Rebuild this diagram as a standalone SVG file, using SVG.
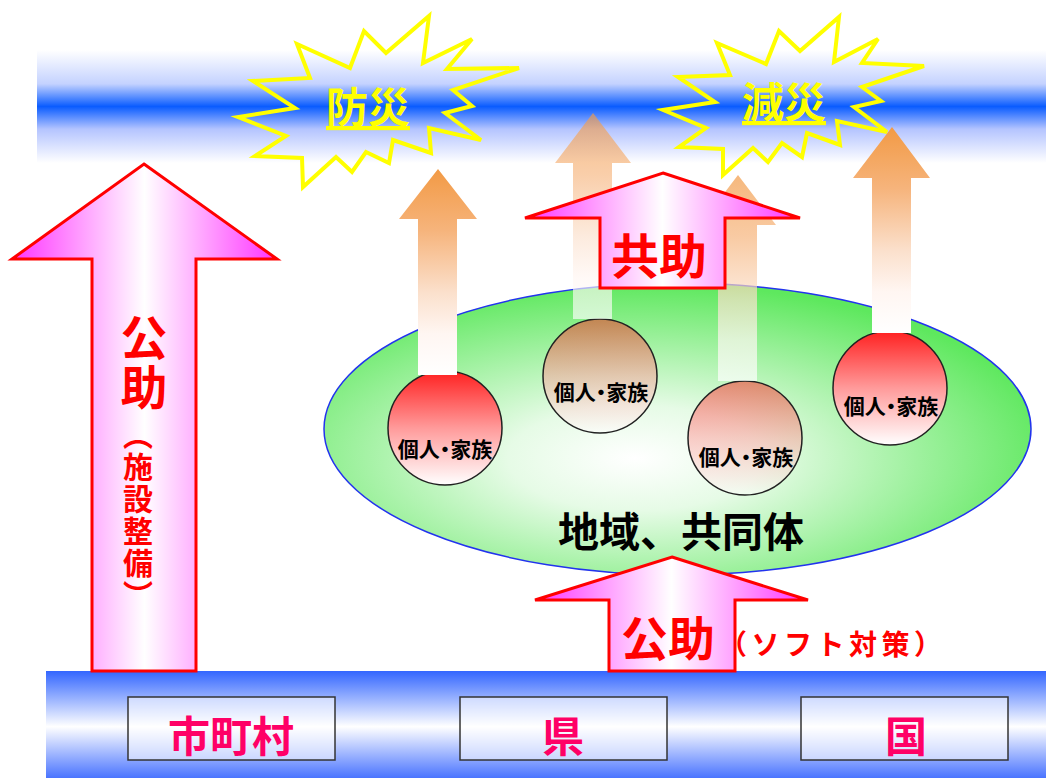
<svg xmlns="http://www.w3.org/2000/svg" width="1046" height="778" viewBox="0 0 1046 778">
<style>
.cjk{font-family:"Noto Sans CJK JP","Noto Sans CJK SC",sans-serif;font-weight:700}
.star{fill:none;stroke:#ffff00;stroke-width:4;stroke-linejoin:miter}
.bigarrow{fill:url(#gMag);stroke:#ff0000;stroke-width:3;stroke-linejoin:miter}
.circ{stroke:#222;stroke-width:1.5}
.ctext{font-size:21px;fill:#000;text-anchor:middle;font-feature-settings:"palt"}
.box{fill:#ffffff;fill-opacity:0.55;stroke:#333;stroke-width:1.5}
.btext{font-size:42px;fill:#ff0066;text-anchor:middle}
</style>
<defs>
<linearGradient id="gTop" x1="0" y1="0" x2="0" y2="1">
<stop offset="0" stop-color="#ffffff"/>
<stop offset="0.3" stop-color="#c4d2ff"/>
<stop offset="0.5" stop-color="#0a5cff"/>
<stop offset="0.7" stop-color="#b4c4ff"/>
<stop offset="1" stop-color="#ffffff"/>
</linearGradient>
<linearGradient id="gBot" x1="0" y1="0" x2="0" y2="1">
<stop offset="0" stop-color="#3366ff"/>
<stop offset="0.52" stop-color="#ffffff"/>
<stop offset="1" stop-color="#4a74ff"/>
</linearGradient>
<radialGradient id="gEll" cx="0.44" cy="0.6" r="0.6">
<stop offset="0" stop-color="#ffffff"/>
<stop offset="0.3" stop-color="#e6fbe6"/>
<stop offset="1" stop-color="#5ee85e"/>
</radialGradient>
<linearGradient id="gMag" x1="0" y1="0" x2="1" y2="0">
<stop offset="0" stop-color="#ff33ff"/>
<stop offset="0.5" stop-color="#ffffff"/>
<stop offset="1" stop-color="#ff33ff"/>
</linearGradient>
<linearGradient id="gOr" x1="0" y1="0" x2="0" y2="1">
<stop offset="0" stop-color="#f29a45"/>
<stop offset="0.3" stop-color="#f6b47c"/>
<stop offset="0.6" stop-color="#fbe0cc"/>
<stop offset="0.8" stop-color="#fff6f2"/>
<stop offset="1" stop-color="#ffffff"/>
</linearGradient>
<linearGradient id="gRed" x1="0" y1="0" x2="0" y2="1">
<stop offset="0" stop-color="#ff2020"/>
<stop offset="0.5" stop-color="#ff9a9a"/>
<stop offset="1" stop-color="#ffffff"/>
</linearGradient>
</defs>

<!-- bands -->
<rect id="topband" x="37" y="50" width="1009" height="113" fill="url(#gTop)"/>
<rect id="bottomband" x="46" y="671" width="1000" height="107" fill="url(#gBot)"/>

<!-- stars -->
<g id="star-bosai">
<polygon class="star" points="297,44 350,68 364,31 386,53 429,16 423,63 472,39 447,69 519,68 453,90 472,106 445,113 481,140 429,128 431,153 393,140 389,163 366,152 352,172 336,157 303,187 302,158 255,156 286,136 238,117 295,108 253,81 310,78"/>
<text class="cjk" x="368" y="123" font-size="42" fill="#ffff00" text-anchor="middle" text-decoration="underline">防災</text>
</g>
<g id="star-gensai">
<polygon class="star" points="717,43 766,64 779,31 800,51 839,17 834,62 878,39 862,63 924,66 862,87 881,101 854,107 887,132 837,121 840,145 807,133 802,157 782,143 768,162 753,148 723,175 723,149 679,147 706,128 663,110 715,102 678,77 730,75"/>
<text class="cjk" x="784" y="118" font-size="42" fill="#ffff00" text-anchor="middle" text-decoration="underline">減災</text>
</g>

<!-- community ellipse -->
<g id="community">
<ellipse cx="677.5" cy="429" rx="353.5" ry="146" fill="url(#gEll)" stroke="#2233ee" stroke-width="1.5"/>
<text class="cjk" x="681" y="547" font-size="41" fill="#000" text-anchor="middle">地域、共同体</text>
</g>

<!-- individuals -->
<g id="person1"><circle class="circ" cx="445" cy="428" r="57" fill="url(#gRed)"/></g>
<g id="person2"><circle class="circ" cx="600" cy="376" r="57" fill="url(#gRed)" fill-opacity="0.5"/></g>
<g id="person3"><circle class="circ" cx="745" cy="438" r="57" fill="url(#gRed)" fill-opacity="0.5"/></g>
<g id="person4"><circle class="circ" cx="890" cy="388" r="57" fill="url(#gRed)"/></g>

<!-- connectors: orange effect arrows -->
<g id="connectors">
<polygon id="arrowA" fill="url(#gOr)" points="438,169 477,219 457,219 457,375 418,375 418,219 399,219"/>
<polygon id="arrowB" fill="url(#gOr)" opacity="0.65" points="593,113 631,163 612,163 612,319 573,319 573,163 555,163"/>
<polygon id="arrowC" fill="url(#gOr)" opacity="0.7" points="738,175 776,225 757,225 757,381 718,381 718,225 700,225"/>
<polygon id="arrowD" fill="url(#gOr)" points="892,127 930,178 911,178 911,333 872,333 872,178 853,178"/>
</g>

<!-- circle labels -->
<g id="labels">
<text class="cjk ctext" x="445" y="457">個人・家族</text>
<text class="cjk ctext" x="601" y="400">個人・家族</text>
<text class="cjk ctext" x="746" y="465">個人・家族</text>
<text class="cjk ctext" x="891" y="414">個人・家族</text>
</g>

<!-- kyojo arrow -->
<g id="kyojo">
<polygon class="bigarrow" points="663,173 800,218 725,218 725,288 600,288 600,218 525,218"/>
<text class="cjk" x="659" y="274" font-size="48" fill="#ff0000" text-anchor="middle">共助</text>
</g>

<!-- public help soft -->
<g id="kojo-soft">
<polygon class="bigarrow" points="672,557 808,600 735,600 735,671 609,671 609,600 535,600"/>
<text class="cjk" x="668" y="656" font-size="47" fill="#ff0000" text-anchor="middle">公助</text>
<text class="cjk" x="719" y="655" font-size="28" fill="#ff0000" letter-spacing="4.5">（ソフト対策）</text>
</g>

<!-- public help facilities -->
<g id="kojo-facility">
<polygon class="bigarrow" points="144,164 277,259 196,259 196,671 92,671 92,259 12,259"/>
<text class="cjk" x="144" y="314" font-size="47" fill="#ff0000" letter-spacing="3" style="writing-mode:vertical-rl">公助</text>
<text class="cjk" x="138" y="420" font-size="30" fill="#ff0000" letter-spacing="2" style="writing-mode:vertical-rl">（施設整備）</text>
</g>

<!-- government levels -->
<g id="municipality">
<rect class="box" x="128" y="697" width="207" height="63"/>
<text class="cjk btext" x="231" y="752">市町村</text>
</g>
<g id="prefecture">
<rect class="box" x="460" y="697" width="207" height="63"/>
<text class="cjk btext" x="563" y="752">県</text>
</g>
<g id="nation">
<rect class="box" x="801" y="697" width="207" height="63"/>
<text class="cjk btext" x="906" y="752">国</text>
</g>
</svg>
